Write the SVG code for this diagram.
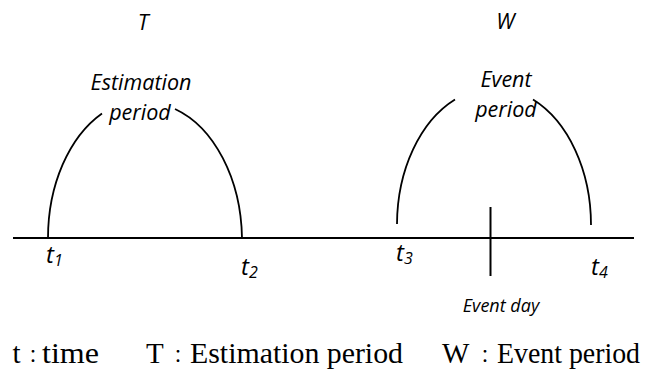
<svg xmlns="http://www.w3.org/2000/svg" width="648" height="369" viewBox="0 0 648 369">
  <style>
    .ln { fill: none; stroke: #000; stroke-width: 2; }
    .arc { fill: none; stroke: #000; stroke-width: 1.8; }
    .it { font-family: "Open Sans", "Noto Sans", sans-serif; font-style: italic; fill: #000; }
    .lab { font-size: 21.5px; text-anchor: middle; }
    .t { font-size: 24px; }
    .sub { font-size: 16px; }
    .cap { font-family: "Liberation Serif", "Noto Sans CJK TC", serif; font-size: 29px; fill: #000; }
    .colon { font-family: "Noto Sans CJK TC", "Noto Sans CJK SC", sans-serif; font-size: 18px; }
  </style>
  <rect width="648" height="369" fill="#fff"/>

  <g id="connectors">
    <path id="timeline" class="ln" d="M13,238 H634"/>
    <path id="event-day-line" class="ln" d="M490.5,207 V276"/>
  </g>

  <g id="estimation-period">
    <path class="arc" d="M48,238 A97,139 0 0 1 102,113.4"/>
    <path class="arc" d="M175,109 A97,139 0 0 1 242,238"/>
    <text class="it lab" x="143" y="30">T</text>
    <text class="it lab" x="141" y="90">Estimation</text>
    <text class="it lab" x="140" y="120">period</text>
  </g>

  <g id="event-period">
    <path class="arc" d="M397,224 A97,137 0 0 1 455,99.5"/>
    <path class="arc" d="M533,99.5 A97,137 0 0 1 591,225"/>
    <text class="it lab" x="505.5" y="28.5">W</text>
    <text class="it lab" x="506" y="87">Event</text>
    <text class="it lab" x="506" y="117">period</text>
  </g>

  <g id="event-day">
    <text class="it" x="501" y="312" font-size="18" text-anchor="middle">Event day</text>
  </g>

  <g id="time-labels">
    <text class="it t" x="46" y="263">t<tspan class="sub" dy="3">1</tspan></text>
    <text class="it t" x="241" y="275">t<tspan class="sub" dy="3">2</tspan></text>
    <text class="it t" x="396" y="261">t<tspan class="sub" dy="3">3</tspan></text>
    <text class="it t" x="591" y="275">t<tspan class="sub" dy="3">4</tspan></text>
  </g>

  <g id="caption">
    <text class="cap" y="363"><tspan x="12.5">t</tspan><tspan class="colon" x="24">：</tspan><tspan x="42" textLength="57" lengthAdjust="spacingAndGlyphs">time</tspan></text>
    <text class="cap" y="363"><tspan x="146">T</tspan><tspan class="colon" x="169">：</tspan><tspan x="190" textLength="213" lengthAdjust="spacingAndGlyphs">Estimation period</tspan></text>
    <text class="cap" y="363"><tspan x="442">W</tspan><tspan class="colon" x="476">：</tspan><tspan x="497" textLength="143" lengthAdjust="spacingAndGlyphs">Event period</tspan></text>
  </g>
</svg>
